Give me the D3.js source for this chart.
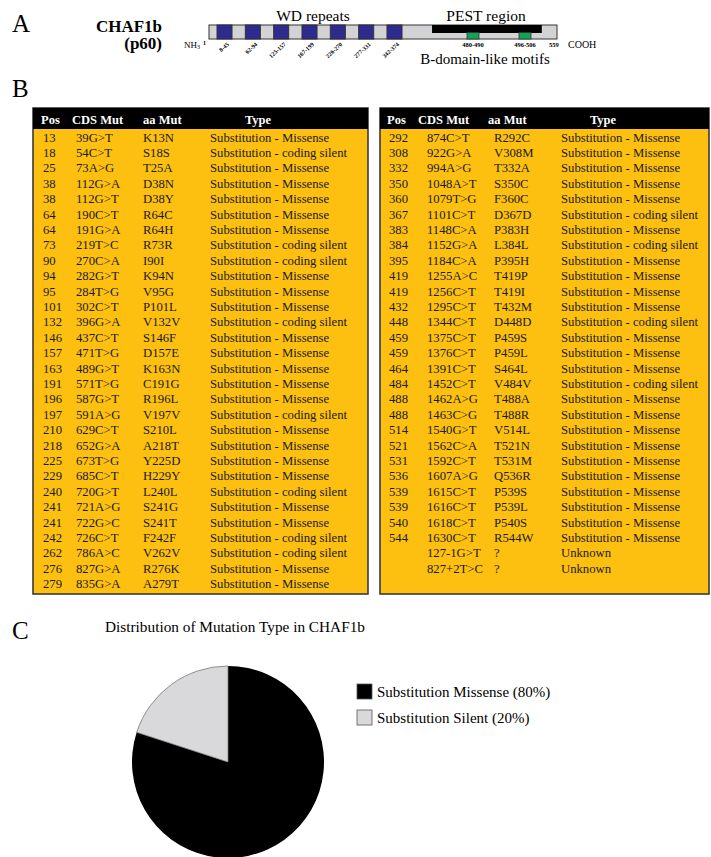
<!DOCTYPE html>
<html>
<head>
<meta charset="utf-8">
<script src="https://cdn.jsdelivr.net/npm/d3@7"></script>
<style>
  body { margin: 0; background: #fff; }
  svg { display: block; font-family: "Liberation Serif", "Times New Roman", serif; }
</style>
</head>
<body>
<script>
// panel A: protein schematic
var wdRepeats = ["8-45", "62-94", "125-157", "167-199", "226-270", "277-331", "342-374"];
var bMotifs = [[480, 490], [496, 506]];
var pestRegion = [423, 528];
var proteinLength = 559;

// panel B: mutation tables
var typeNames = {M: "Substitution - Missense", S: "Substitution - coding silent", U: "Unknown"};

var leftPos = [13, 18, 25, 38, 38, 64, 64, 73, 90, 94, 95, 101, 132, 146, 157, 163, 191, 196, 197, 210, 218, 225, 229, 240, 241, 241, 242, 262, 276, 279];
var leftCds = ["39G>T", "54C>T", "73A>G", "112G>A", "112G>T", "190C>T", "191G>A", "219T>C", "270C>A", "282G>T", "284T>G", "302C>T", "396G>A", "437C>T", "471T>G", "489G>T", "571T>G", "587G>T", "591A>G", "629C>T", "652G>A", "673T>G", "685C>T", "720G>T", "721A>G", "722G>C", "726C>T", "786A>C", "827G>A", "835G>A"];
var leftAa = ["K13N", "S18S", "T25A", "D38N", "D38Y", "R64C", "R64H", "R73R", "I90I", "K94N", "V95G", "P101L", "V132V", "S146F", "D157E", "K163N", "C191G", "R196L", "V197V", "S210L", "A218T", "Y225D", "H229Y", "L240L", "S241G", "S241T", "F242F", "V262V", "R276K", "A279T"];
var leftType = ["M", "S", "M", "M", "M", "M", "M", "S", "S", "M", "M", "M", "S", "M", "M", "M", "M", "M", "S", "M", "M", "M", "M", "S", "M", "M", "S", "S", "M", "M"];

var rightPos = [292, 308, 332, 350, 360, 367, 383, 384, 395, 419, 419, 432, 448, 459, 459, 464, 484, 488, 488, 514, 521, 531, 536, 539, 539, 540, 544, "", ""];
var rightCds = ["874C>T", "922G>A", "994A>G", "1048A>T", "1079T>G", "1101C>T", "1148C>A", "1152G>A", "1184C>A", "1255A>C", "1256C>T", "1295C>T", "1344C>T", "1375C>T", "1376C>T", "1391C>T", "1452C>T", "1462A>G", "1463C>G", "1540G>T", "1562C>A", "1592C>T", "1607A>G", "1615C>T", "1616C>T", "1618C>T", "1630C>T", "127-1G>T", "827+2T>C"];
var rightAa = ["R292C", "V308M", "T332A", "S350C", "F360C", "D367D", "P383H", "L384L", "P395H", "T419P", "T419I", "T432M", "D448D", "P459S", "P459L", "S464L", "V484V", "T488A", "T488R", "V514L", "T521N", "T531M", "Q536R", "P539S", "P539L", "P540S", "R544W", "?", "?"];
var rightType = ["M", "M", "M", "M", "M", "S", "M", "S", "M", "M", "M", "M", "S", "M", "M", "M", "S", "M", "M", "M", "M", "M", "M", "M", "M", "M", "M", "U", "U"];

var headers = ["Pos", "CDS Mut", "aa Mut", "Type"];

// panel C: pie
var pieLabels = ["Substitution Missense (80%)", "Substitution Silent (20%)"];
var pieValues = [80, 20];

var svg = d3.select("body").append("svg")
    .attr("width", 711)
    .attr("height", 857);

svg.append("rect").attr("width", 711).attr("height", 857).attr("fill", "#fff");

var panelLabel = function(txt, y){
    svg.append("text").attr("x", 12).attr("y", y)
        .attr("font-size", 25).text(txt);
}

// ---------- A ----------
var loadSchematic = function(){
    var g = svg.append("g");
    var barTop = 25, barH = 14;

    // schematic (not to scale) position along the bar
    var aaScale = d3.scaleLinear()
        .domain([1, 374, 480, 490, 496, 506, proteinLength])
        .range([209, 402, 467, 479, 519, 531, 557]);

    var wdScale = d3.scaleBand().domain(wdRepeats)
        .range([217, 402]).paddingInner(0.47).paddingOuter(0);

    g.append("text").attr("x", 162).attr("y", 31.5).attr("text-anchor", "end")
        .attr("font-size", 17).attr("font-weight", "bold").text("CHAF1b");
    g.append("text").attr("x", 162).attr("y", 49).attr("text-anchor", "end")
        .attr("font-size", 17).attr("font-weight", "bold").text("(p60)");

    g.append("rect")
        .attr("x", aaScale(1)).attr("y", barTop)
        .attr("width", aaScale(proteinLength) - aaScale(1)).attr("height", barH)
        .attr("fill", "#d3d3d6").attr("stroke", "#333").attr("stroke-width", 1);

    g.selectAll(".wd").data(wdRepeats).enter().append("rect")
        .attr("x", function(d){ return wdScale(d); })
        .attr("y", barTop)
        .attr("width", wdScale.bandwidth()).attr("height", barH)
        .attr("fill", "#2d2b8e").attr("stroke", "#333").attr("stroke-width", 1);

    g.selectAll(".wdl").data(wdRepeats).enter().append("text")
        .attr("transform", function(d){
            return "translate(" + (wdScale(d) + wdScale.bandwidth() / 2 + 5) + ",45) rotate(-42)";
        })
        .attr("text-anchor", "end").attr("font-size", 6).attr("font-weight", "bold")
        .text(function(d){ return d; });

    g.append("rect")
        .attr("x", aaScale(pestRegion[0])).attr("y", barTop)
        .attr("width", aaScale(pestRegion[1]) - aaScale(pestRegion[0])).attr("height", 8)
        .attr("fill", "#000");

    g.selectAll(".mot").data(bMotifs).enter().append("rect")
        .attr("x", function(d){ return aaScale(d[0]); })
        .attr("y", barTop + 7.5)
        .attr("width", function(d){ return aaScale(d[1]) - aaScale(d[0]); })
        .attr("height", barH - 7.5)
        .attr("fill", "#10a550").attr("stroke", "#333").attr("stroke-width", 0.8);

    g.selectAll(".motl").data(bMotifs).enter().append("text")
        .attr("x", function(d){ return (aaScale(d[0]) + aaScale(d[1])) / 2; })
        .attr("y", 46.5).attr("text-anchor", "middle")
        .attr("font-size", 6.5).attr("font-weight", "bold")
        .text(function(d){ return d[0] + "-" + d[1]; });

    g.append("text").attr("x", aaScale(proteinLength) - 8).attr("y", 46.5)
        .attr("font-size", 6.5).attr("font-weight", "bold").text(proteinLength);
    g.append("text").attr("x", 568).attr("y", 47.5)
        .attr("font-size", 10).text("COOH");

    var nh = g.append("text").attr("x", 184).attr("y", 47.5).attr("font-size", 9);
    nh.append("tspan").text("NH");
    nh.append("tspan").attr("font-size", 6).attr("dy", 1.5).text("3");
    g.append("text").attr("x", 203).attr("y", 45).attr("font-size", 6)
        .attr("font-weight", "bold").text("1");

    g.append("text").attr("x", 313).attr("y", 21).attr("text-anchor", "middle")
        .attr("font-size", 15.5).text("WD repeats");
    g.append("text").attr("x", 486).attr("y", 21).attr("text-anchor", "middle")
        .attr("font-size", 15.5).text("PEST region");
    g.append("text").attr("x", 485).attr("y", 64).attr("text-anchor", "middle")
        .attr("font-size", 15).text("B-domain-like motifs");
}

// ---------- B ----------
var rowScale = d3.scaleBand().domain(d3.range(30)).range([129.3, 591.3]);

var loadTable = function(left, right, pos, cds, aa, type, headX, colX){
    var g = svg.append("g");
    var top = 108, bottom = 594;

    g.append("rect").attr("x", left).attr("y", top)
        .attr("width", right - left).attr("height", bottom - top)
        .attr("fill", "#fdc010").attr("stroke", "#3a3a3a").attr("stroke-width", 1.6);
    g.append("rect").attr("x", left).attr("y", top)
        .attr("width", right - left).attr("height", 21)
        .attr("fill", "#000");

    g.selectAll(".h").data(headers).enter().append("text")
        .attr("x", function(d, i){ return left + headX[i]; })
        .attr("y", 124)
        .attr("text-anchor", function(d, i){ return i === 3 ? "middle" : "start"; })
        .attr("fill", "#fff").attr("font-size", 12.5).attr("font-weight", "bold")
        .text(function(d){ return d; });

    var rows = pos.map(function(p, i){ return [p, cds[i], aa[i], typeNames[type[i]]]; });
    var r = g.selectAll(".row").data(rows).enter().append("g")
        .attr("transform", function(d, i){
            return "translate(0," + (rowScale(i) + rowScale.bandwidth() / 2 + 4.5) + ")";
        });
    r.selectAll("text").data(function(d){ return d; }).enter().append("text")
        .attr("x", function(d, i){ return left + colX[i]; })
        .attr("font-size", 12.7).attr("fill", "#1a1a1a")
        .text(function(d){ return d; });
}

// ---------- C ----------
var loadPie = function(){
    var g = svg.append("g").attr("transform", "translate(228,762)");
    var arcs = d3.pie().sort(null)(pieValues);
    var arc = d3.arc().innerRadius(0).outerRadius(96);
    var colors = d3.scaleOrdinal().domain(pieLabels).range(["#000", "#d9d9db"]);

    g.selectAll("path").data(arcs).enter().append("path")
        .attr("d", arc)
        .attr("fill", function(d, i){ return colors(pieLabels[i]); })
        .attr("stroke", function(d, i){ return i === 0 ? "none" : "#777"; })
        .attr("stroke-width", 0.8);

    svg.append("text").attr("x", 105).attr("y", 632)
        .attr("font-size", 15.3).text("Distribution of Mutation Type in CHAF1b");

    var legendY = d3.scalePoint().domain(pieLabels).range([684, 710]);
    var lg = svg.selectAll(".leg").data(pieLabels).enter().append("g")
        .attr("transform", function(d){ return "translate(357," + legendY(d) + ")"; });
    lg.append("rect").attr("width", 15).attr("height", 15)
        .attr("fill", function(d){ return colors(d); })
        .attr("stroke", "#555").attr("stroke-width", 0.8);
    lg.append("text").attr("x", 20).attr("y", 13)
        .attr("font-size", 15).text(function(d){ return d; });
}

panelLabel("A", 32);
panelLabel("B", 97);
panelLabel("C", 639);
loadSchematic();
loadTable(33, 368, leftPos, leftCds, leftAa, leftType, [8, 39, 110, 225], [10, 43, 110, 177]);
loadTable(380, 709, rightPos, rightCds, rightAa, rightType, [7, 38, 108, 223], [9, 47, 114, 181]);
loadPie();
</script>
</body>
</html>
